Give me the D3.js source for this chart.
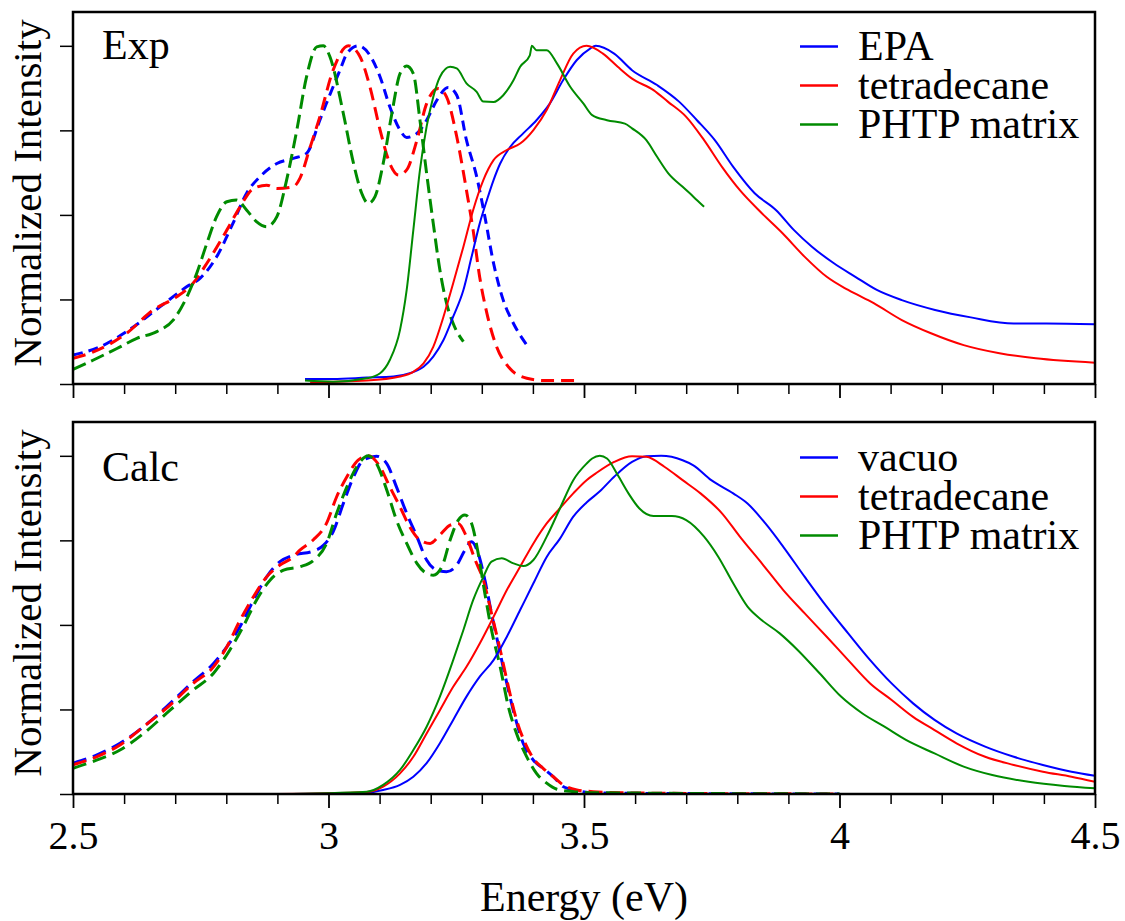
<!DOCTYPE html>
<html>
<head>
<meta charset="utf-8">
<script src="https://cdn.jsdelivr.net/npm/d3@7"></script>
<style>
  html, body { margin: 0; padding: 0; background: #ffffff; }
  svg { display: block; font-family: "Liberation Serif", "Times New Roman", Times, serif; }
</style>
</head>
<body>
<svg id="chart" width="1125" height="921"></svg>
<script>
// ---------- Axis ticks ----------
const energyMajorTicks = [2.5, 3, 3.5, 4, 4.5];
const energyMinorTicks = [2.6, 2.7, 2.8, 2.9, 3.1, 3.2, 3.3, 3.4, 3.6, 3.7, 3.8, 3.9, 4.1, 4.2, 4.3, 4.4];
const intensityTicks = [0, 0.25, 0.5, 0.75, 1];

// ---------- Experimental spectra: [energy (eV), normalized intensity] ----------
// absorption (dashed)
const expAbsEPA = [[2.500,0.086],[2.553,0.110],[2.605,0.155],[2.670,0.228],[2.723,0.288],[2.749,0.313],[2.781,0.376],[2.813,0.475],[2.840,0.565],[2.866,0.613],[2.899,0.652],[2.931,0.667],[2.957,0.682],[2.983,0.780],[2.996,0.830],[3.009,0.879],[3.023,0.930],[3.036,0.977],[3.058,1.000],[3.081,0.972],[3.101,0.908],[3.120,0.820],[3.140,0.751],[3.153,0.729],[3.173,0.741],[3.192,0.780],[3.212,0.839],[3.234,0.877],[3.251,0.854],[3.270,0.721],[3.290,0.613],[3.306,0.495],[3.323,0.357],[3.342,0.248],[3.362,0.179],[3.388,0.115]];
const expAbsTetradecane = [[2.500,0.076],[2.540,0.095],[2.605,0.150],[2.657,0.219],[2.703,0.258],[2.735,0.298],[2.762,0.357],[2.801,0.455],[2.827,0.524],[2.853,0.578],[2.879,0.588],[2.899,0.578],[2.931,0.583],[2.944,0.608],[2.964,0.700],[2.983,0.790],[3.009,0.928],[3.039,1.000],[3.062,0.967],[3.081,0.879],[3.101,0.751],[3.120,0.652],[3.137,0.618],[3.153,0.633],[3.173,0.721],[3.192,0.829],[3.215,0.874],[3.231,0.849],[3.251,0.731],[3.270,0.573],[3.283,0.455],[3.296,0.315],[3.310,0.209],[3.329,0.110],[3.355,0.046],[3.388,0.017],[3.427,0.010],[3.486,0.010]];
const expAbsPHTP = [[2.500,0.043],[2.540,0.071],[2.586,0.105],[2.625,0.135],[2.664,0.155],[2.696,0.189],[2.723,0.258],[2.742,0.327],[2.762,0.416],[2.781,0.495],[2.801,0.539],[2.820,0.544],[2.840,0.514],[2.859,0.480],[2.879,0.465],[2.899,0.495],[2.918,0.603],[2.938,0.751],[2.957,0.908],[2.977,0.997],[2.990,1.000],[3.003,0.967],[3.029,0.800],[3.049,0.652],[3.065,0.564],[3.078,0.534],[3.091,0.554],[3.107,0.652],[3.124,0.800],[3.140,0.918],[3.153,0.940],[3.166,0.918],[3.179,0.780],[3.192,0.623],[3.205,0.475],[3.218,0.337],[3.231,0.239],[3.244,0.179],[3.264,0.125]];
// emission (solid)
const expEmEPA = [[2.954,0.015],[3.009,0.015],[3.075,0.019],[3.127,0.022],[3.159,0.032],[3.186,0.051],[3.205,0.081],[3.225,0.130],[3.244,0.199],[3.264,0.278],[3.280,0.376],[3.296,0.475],[3.310,0.544],[3.323,0.603],[3.336,0.652],[3.355,0.700],[3.381,0.741],[3.407,0.780],[3.433,0.829],[3.459,0.898],[3.486,0.958],[3.512,0.992],[3.523,1.000],[3.559,0.977],[3.594,0.928],[3.643,0.884],[3.686,0.835],[3.721,0.780],[3.756,0.721],[3.792,0.642],[3.834,0.564],[3.876,0.514],[3.911,0.455],[3.946,0.406],[3.989,0.357],[4.031,0.317],[4.073,0.278],[4.122,0.248],[4.187,0.219],[4.257,0.197],[4.341,0.179],[4.405,0.179],[4.500,0.177]];
const expEmTetradecane = [[2.964,0.005],[3.075,0.010],[3.140,0.022],[3.166,0.036],[3.186,0.061],[3.205,0.110],[3.225,0.199],[3.244,0.298],[3.264,0.406],[3.283,0.514],[3.303,0.603],[3.323,0.662],[3.349,0.692],[3.375,0.711],[3.401,0.751],[3.427,0.810],[3.453,0.898],[3.479,0.977],[3.505,1.000],[3.537,0.977],[3.566,0.938],[3.594,0.903],[3.636,0.869],[3.664,0.835],[3.700,0.790],[3.735,0.721],[3.770,0.642],[3.805,0.573],[3.848,0.505],[3.889,0.445],[3.932,0.376],[3.975,0.317],[4.017,0.278],[4.067,0.239],[4.122,0.189],[4.179,0.150],[4.243,0.115],[4.313,0.091],[4.384,0.076],[4.500,0.063]];
const expEmPHTP = [[2.954,0.010],[3.009,0.007],[3.075,0.017],[3.101,0.032],[3.120,0.071],[3.140,0.160],[3.153,0.278],[3.166,0.455],[3.179,0.633],[3.192,0.761],[3.205,0.849],[3.218,0.908],[3.238,0.938],[3.251,0.933],[3.270,0.889],[3.290,0.864],[3.303,0.835],[3.323,0.834],[3.342,0.854],[3.362,0.898],[3.375,0.938],[3.394,0.972],[3.398,1.000],[3.407,0.987],[3.427,0.987],[3.447,0.948],[3.473,0.879],[3.499,0.829],[3.516,0.795],[3.545,0.780],[3.580,0.770],[3.594,0.756],[3.622,0.721],[3.643,0.672],[3.665,0.623],[3.693,0.583],[3.714,0.554],[3.735,0.524]];

// ---------- Calculated spectra ----------
// absorption (dashed)
const calcAbsVacuo = [[2.500,0.091],[2.546,0.115],[2.592,0.150],[2.638,0.199],[2.690,0.268],[2.735,0.332],[2.775,0.386],[2.801,0.435],[2.827,0.495],[2.853,0.573],[2.879,0.642],[2.905,0.687],[2.931,0.706],[2.970,0.718],[2.990,0.735],[3.009,0.775],[3.029,0.859],[3.049,0.938],[3.068,0.987],[3.094,0.999],[3.114,0.977],[3.133,0.908],[3.153,0.830],[3.173,0.761],[3.192,0.692],[3.212,0.662],[3.231,0.657],[3.251,0.677],[3.267,0.721],[3.280,0.746],[3.293,0.711],[3.306,0.633],[3.319,0.534],[3.336,0.416],[3.349,0.327],[3.365,0.228],[3.381,0.150],[3.401,0.100],[3.420,0.076],[3.440,0.051],[3.459,0.022],[3.486,0.010],[3.518,0.004],[3.600,0.002],[4.000,0.000]];
const calcAbsTetradecane = [[2.500,0.086],[2.546,0.110],[2.592,0.145],[2.638,0.199],[2.690,0.263],[2.735,0.327],[2.775,0.376],[2.801,0.435],[2.827,0.514],[2.853,0.583],[2.879,0.642],[2.905,0.677],[2.931,0.701],[2.944,0.721],[2.970,0.751],[2.996,0.800],[3.016,0.879],[3.036,0.938],[3.058,0.987],[3.078,1.000],[3.101,0.967],[3.120,0.908],[3.140,0.849],[3.159,0.790],[3.179,0.751],[3.199,0.741],[3.218,0.766],[3.238,0.795],[3.254,0.800],[3.270,0.761],[3.287,0.692],[3.303,0.633],[3.319,0.534],[3.336,0.426],[3.352,0.317],[3.368,0.219],[3.385,0.150],[3.401,0.105],[3.420,0.076],[3.440,0.051],[3.459,0.027],[3.486,0.012],[3.518,0.007],[3.600,0.003],[4.000,0.000]];
const calcAbsPHTP = [[2.500,0.076],[2.546,0.100],[2.592,0.130],[2.638,0.179],[2.690,0.248],[2.735,0.307],[2.775,0.357],[2.807,0.426],[2.833,0.495],[2.859,0.573],[2.886,0.633],[2.912,0.662],[2.944,0.672],[2.970,0.690],[2.996,0.740],[3.016,0.830],[3.036,0.908],[3.055,0.967],[3.078,1.000],[3.094,0.977],[3.114,0.899],[3.133,0.810],[3.153,0.741],[3.173,0.682],[3.192,0.652],[3.205,0.647],[3.222,0.672],[3.238,0.751],[3.254,0.810],[3.267,0.825],[3.280,0.800],[3.293,0.711],[3.306,0.593],[3.319,0.485],[3.336,0.376],[3.352,0.258],[3.368,0.179],[3.388,0.110],[3.407,0.061],[3.427,0.032],[3.447,0.014],[3.479,0.007],[3.518,0.004],[4.000,0.000]];
// emission (solid)
const calcEmVacuo = [[2.900,0.000],[3.075,0.004],[3.107,0.012],[3.140,0.027],[3.166,0.051],[3.192,0.091],[3.218,0.150],[3.244,0.219],[3.270,0.288],[3.296,0.347],[3.323,0.396],[3.349,0.465],[3.375,0.544],[3.401,0.623],[3.427,0.701],[3.453,0.755],[3.479,0.820],[3.505,0.862],[3.531,0.895],[3.559,0.938],[3.594,0.982],[3.622,0.999],[3.651,1.000],[3.693,0.987],[3.714,0.972],[3.749,0.928],[3.792,0.889],[3.820,0.859],[3.855,0.800],[3.890,0.731],[3.932,0.642],[3.975,0.554],[4.017,0.475],[4.060,0.396],[4.102,0.327],[4.144,0.268],[4.186,0.219],[4.229,0.179],[4.285,0.140],[4.341,0.110],[4.398,0.086],[4.454,0.066],[4.500,0.054]];
const calcEmTetradecane = [[2.900,0.000],[3.075,0.006],[3.107,0.022],[3.140,0.061],[3.166,0.110],[3.192,0.179],[3.218,0.248],[3.244,0.317],[3.270,0.376],[3.296,0.445],[3.323,0.524],[3.349,0.603],[3.375,0.672],[3.401,0.741],[3.427,0.800],[3.453,0.845],[3.479,0.889],[3.505,0.928],[3.523,0.948],[3.559,0.982],[3.594,0.999],[3.622,0.997],[3.658,0.967],[3.693,0.928],[3.728,0.889],[3.770,0.830],[3.805,0.761],[3.848,0.682],[3.890,0.603],[3.932,0.534],[3.975,0.465],[4.017,0.396],[4.060,0.327],[4.102,0.278],[4.144,0.228],[4.186,0.189],[4.229,0.150],[4.285,0.110],[4.341,0.086],[4.398,0.066],[4.454,0.051],[4.500,0.036]];
const calcEmPHTP = [[2.900,0.000],[3.075,0.007],[3.107,0.027],[3.140,0.071],[3.166,0.130],[3.192,0.199],[3.218,0.288],[3.244,0.396],[3.264,0.485],[3.283,0.573],[3.303,0.642],[3.319,0.687],[3.339,0.697],[3.362,0.682],[3.381,0.674],[3.401,0.692],[3.427,0.761],[3.453,0.845],[3.479,0.928],[3.505,0.977],[3.516,0.992],[3.531,1.000],[3.545,0.992],[3.566,0.943],[3.587,0.889],[3.608,0.845],[3.636,0.822],[3.672,0.822],[3.700,0.810],[3.735,0.761],[3.763,0.701],[3.792,0.623],[3.820,0.554],[3.848,0.514],[3.883,0.475],[3.918,0.426],[3.961,0.357],[4.003,0.288],[4.045,0.238],[4.088,0.199],[4.130,0.160],[4.186,0.120],[4.243,0.081],[4.299,0.056],[4.370,0.036],[4.440,0.024],[4.500,0.017]];

// ---------- Legend entries ----------
const expLegend = ["EPA", "tetradecane", "PHTP matrix"];
const calcLegend = ["vacuo", "tetradecane", "PHTP matrix"];
const panelLabels = ["Exp", "Calc"];
const xAxisTitle = "Energy (eV)";
const yAxisTitle = "Normalized Intensity";

// ---------- Styling ----------
const BLUE = "#0000ff", RED = "#ff0000", GREEN = "#008b00";
const seriesColors = [BLUE, RED, GREEN];

const svg = d3.select("#chart");
const x = d3.scaleLinear().domain([2.5, 4.5]).range([73, 1095]);

const panels = [
  {
    top: 12, bottom: 384, label: panelLabels[0], labelY: 59, legend: expLegend, legendBase: 60,
    dashed: [expAbsEPA, expAbsTetradecane, expAbsPHTP],
    dashes: ["10,6", "13,7", "14,6"],
    solid: [expEmEPA, expEmTetradecane, expEmPHTP],
    tickLabels: false, titleY: 193
  },
  {
    top: 422, bottom: 794, label: panelLabels[1], labelY: 481, legend: calcLegend, legendBase: 471,
    dashed: [calcAbsVacuo, calcAbsTetradecane, calcAbsPHTP],
    dashes: ["14,7", "14,7", "14,7"],
    solid: [calcEmVacuo, calcEmTetradecane, calcEmPHTP],
    tickLabels: true, titleY: 603
  }
];

panels.forEach((p, pi) => {
  const y = d3.scaleLinear().domain([0, 1.1]).range([p.bottom, p.top]);
  const g = svg.append("g");

  const clipId = "clip" + pi;
  svg.append("clipPath").attr("id", clipId)
    .append("rect").attr("x", x.range()[0]).attr("y", p.top)
    .attr("width", x.range()[1] - x.range()[0]).attr("height", p.bottom - p.top);

  const line = d3.line()
    .x(d => x(d[0])).y(d => y(d[1]))
    .curve(d3.curveMonotoneX);

  const plot = g.append("g").attr("clip-path", `url(#${clipId})`);

  // absorption curves (dashed)
  p.dashed.forEach((data, i) => {
    plot.append("path").datum(data)
      .attr("d", line)
      .attr("fill", "none")
      .attr("stroke", seriesColors[i])
      .attr("stroke-width", 3)
      .attr("stroke-dasharray", p.dashes[i])
      .attr("stroke-linejoin", "round");
  });

  // emission curves (solid)
  p.solid.forEach((data, i) => {
    plot.append("path").datum(data)
      .attr("d", line)
      .attr("fill", "none")
      .attr("stroke", seriesColors[i])
      .attr("stroke-width", 2)
      .attr("stroke-linejoin", "round");
  });

  // bottom axis: minor ticks
  const minorAxis = d3.axisBottom(x).tickValues(energyMinorTicks).tickSize(10).tickFormat("");
  const gMinor = g.append("g").attr("transform", `translate(0,${p.bottom})`).call(minorAxis);
  gMinor.select(".domain").remove();
  gMinor.selectAll(".tick line").attr("stroke", "#000").attr("stroke-width", 1.5);

  // bottom axis: major ticks
  const majorAxis = d3.axisBottom(x).tickValues(energyMajorTicks).tickSize(14)
    .tickFormat(p.tickLabels ? d3.format("") : "");
  const gMajor = g.append("g").attr("transform", `translate(0,${p.bottom})`).call(majorAxis);
  gMajor.select(".domain").remove();
  gMajor.selectAll(".tick line").attr("stroke", "#000").attr("stroke-width", 1.8);
  gMajor.selectAll(".tick text")
    .attr("y", 55).attr("dy", 0)
    .attr("font-family", "'Liberation Serif', 'Times New Roman', serif")
    .attr("font-size", 40).attr("fill", "#000");

  // left axis ticks
  const yAxis = d3.axisLeft(y).tickValues(intensityTicks).tickSize(13).tickFormat("");
  const gY = g.append("g").attr("transform", `translate(${x.range()[0]},0)`).call(yAxis);
  gY.select(".domain").remove();
  gY.selectAll(".tick line").attr("stroke", "#000").attr("stroke-width", 1.5);

  // frame
  g.append("rect")
    .attr("x", x.range()[0]).attr("y", p.top)
    .attr("width", x.range()[1] - x.range()[0]).attr("height", p.bottom - p.top)
    .attr("fill", "none").attr("stroke", "#000").attr("stroke-width", 2.5);

  // panel label
  g.append("text").attr("x", 102).attr("y", p.labelY)
    .attr("font-size", 42).attr("fill", "#000").text(p.label);

  // legend
  p.legend.forEach((name, i) => {
    const by = p.legendBase + i * 39;
    g.append("line").attr("x1", 800).attr("x2", 838)
      .attr("y1", by - 13.5).attr("y2", by - 13.5)
      .attr("stroke", seriesColors[i]).attr("stroke-width", 2.5);
    g.append("text").attr("x", 858).attr("y", by)
      .attr("font-size", 42).attr("fill", "#000").text(name);
  });

  // y-axis title
  g.append("text")
    .attr("transform", `translate(41,${p.titleY}) rotate(-90)`)
    .attr("text-anchor", "middle")
    .attr("font-size", 41).attr("fill", "#000")
    .text(yAxisTitle);
});

// x-axis title
svg.append("text")
  .attr("x", x(3.5)).attr("y", 911)
  .attr("text-anchor", "middle")
  .attr("font-size", 42).attr("fill", "#000")
  .text(xAxisTitle);
</script>
</body>
</html>
